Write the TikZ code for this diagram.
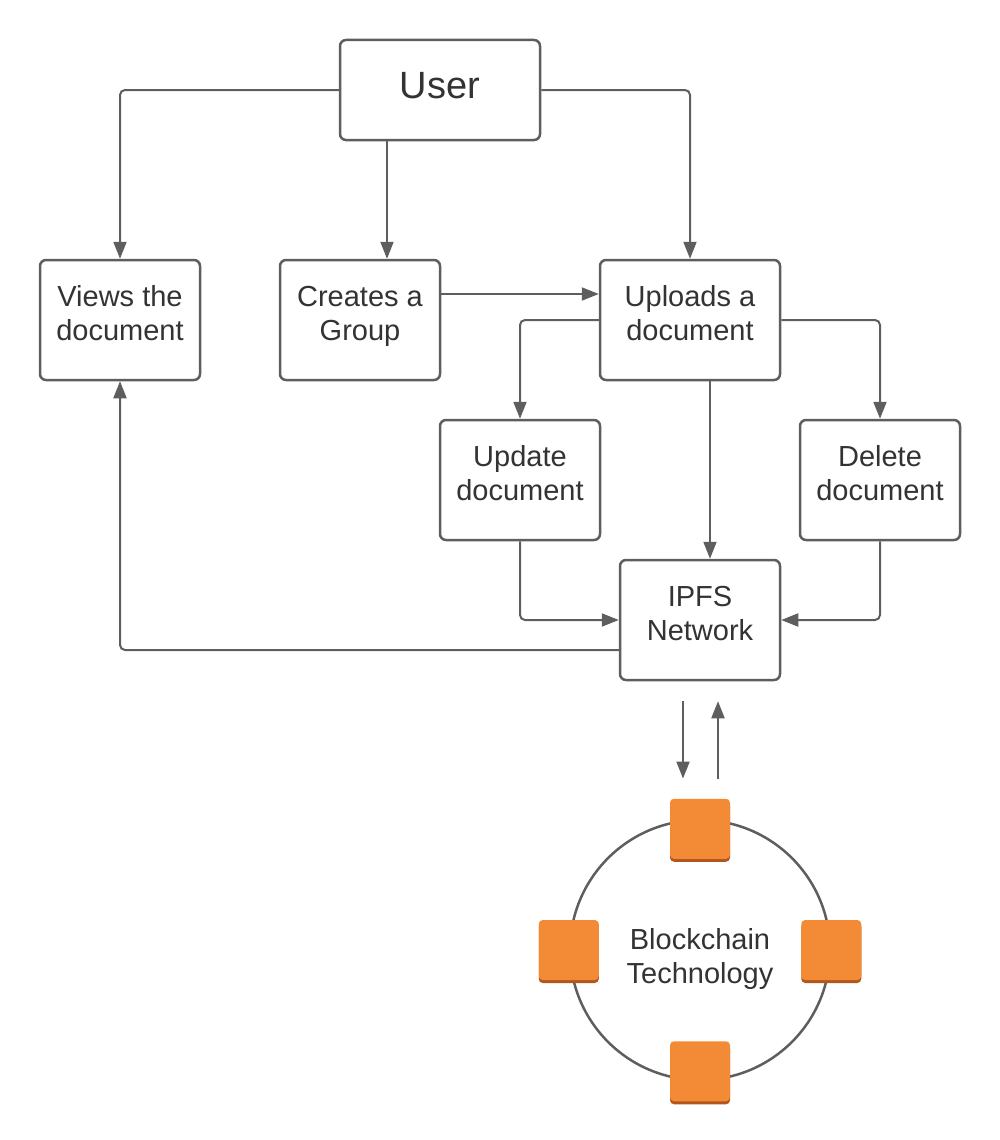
\documentclass[tikz,border=0pt]{standalone}
\usepackage{fontspec}
\setmainfont{Liberation Sans}
\usetikzlibrary{arrows.meta,shadows}
\definecolor{linegray}{HTML}{5E5E5E}
\definecolor{textgray}{HTML}{333333}
\definecolor{blockorange}{HTML}{F38A36}
\definecolor{blockshade}{HTML}{B3561C}

\begin{document}
\begin{tikzpicture}[x=1pt,y=-1pt,
    box/.style={draw=linegray,line width=2.5pt,rounded corners=6pt,fill=white,align=center,text=textgray,
        font=\fontsize{29}{34}\selectfont,minimum width=160pt,minimum height=120pt,inner sep=0pt,text depth=14pt},
    conn/.style={draw=linegray,line width=2pt,rounded corners=5pt,-{Triangle[length=17pt,width=13pt]}},
    block/.style={fill=blockorange,rounded corners=4pt,minimum size=60pt,inner sep=0pt,
        drop shadow={shadow xshift=0pt,shadow yshift=-3pt,fill=blockshade,opacity=1}}]
    \useasboundingbox (0,0) rectangle (1000,1140);

    \node[box,minimum width=200pt,minimum height=100pt,font=\fontsize{38}{44}\selectfont,text depth=9pt] (user) at (440,90) {User};
    \node[box] (views) at (120,320) {Views the\\document};
    \node[box] (creates) at (360,320) {Creates a\\Group};
    \node[box,minimum width=180pt] (uploads) at (690,320) {Uploads a\\document};
    \node[box] (update) at (520,480) {Update\\document};
    \node[box] (delete) at (880,480) {Delete\\document};
    \node[box] (ipfs) at (700,620) {IPFS\\Network};

    % blockchain ring
    \node[circle,draw=linegray,line width=2.5pt,minimum size=260pt,inner sep=0pt,align=center,text=textgray,
        font=\fontsize{29}{34}\selectfont,text height=73pt,text depth=6pt] (chain) at (700,950) {Blockchain\\Technology};
    \node[block] (btop) at ([yshift=-10pt]chain.north) {};
    \node[block] (bleft) at (chain.west) {};
    \node[block] (bright) at (chain.east) {};
    \node[block] (bbottom) at ([yshift=10pt]chain.south) {};

    % user actions
    \draw[conn] (user.west) -| (views.north);
    \draw[conn] (user.south -| 387,0) -- ([xshift=27pt]creates.north);
    \draw[conn] (user.east) -| (uploads.north);
    \draw[conn] ([yshift=26pt]creates.east) -- ([yshift=26pt]uploads.west);
    \draw[conn] (uploads.west) -| (update.north);
    \draw[conn] (uploads.east) -| (delete.north);
    \draw[conn] ([xshift=20pt]uploads.south) -- ([xshift=10pt]ipfs.north);
    \draw[conn] (update.south) |- (ipfs.west);
    \draw[conn] (delete.south) |- (ipfs.east);
    \draw[conn] ([yshift=-30pt]ipfs.west) -| (views.south);

    % ipfs <-> blockchain
    \coordinate (toChain) at ([xshift=-17pt,yshift=-20pt]ipfs.south);
    \coordinate (atChain) at ([xshift=-17pt,yshift=20pt]btop.north);
    \coordinate (fromChain) at ([xshift=18pt,yshift=20pt]btop.north);
    \coordinate (atIpfs) at ([xshift=18pt,yshift=-20pt]ipfs.south);
    \draw[conn] (toChain) -- (atChain);
    \draw[conn] (fromChain) -- (atIpfs);
\end{tikzpicture}
\end{document}
